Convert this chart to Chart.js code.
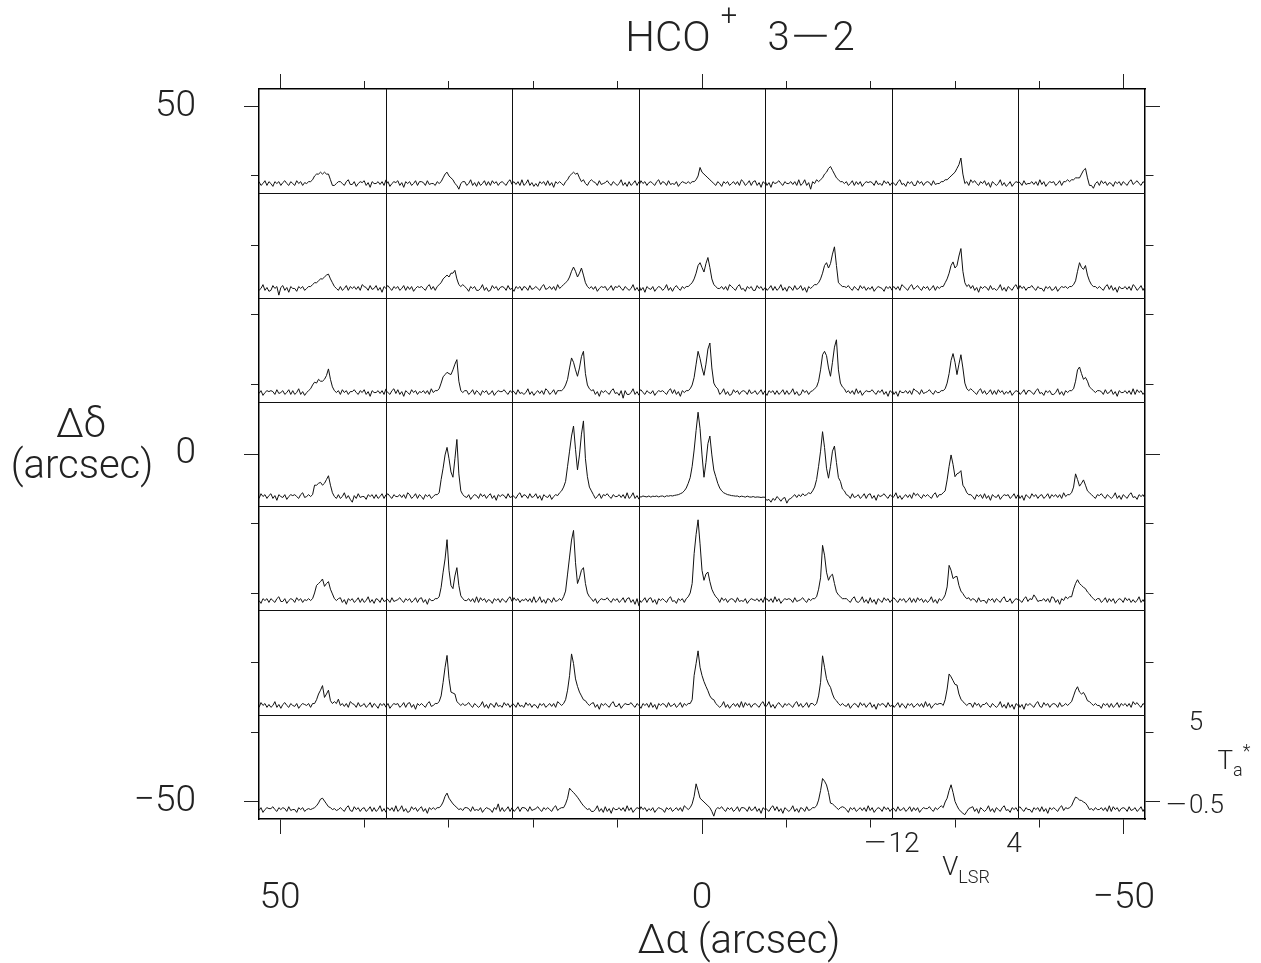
<!DOCTYPE html>
<html>
<head>
<meta charset="utf-8">
<script src="https://cdn.jsdelivr.net/npm/chart.js@4.4.1/dist/chart.umd.min.js"></script>
<style>
  body { margin: 0; background: #fff; }
  #page { position: relative; width: 1261px; height: 963px; overflow: hidden;
          font-family: Roboto, 'Liberation Sans', Arial, sans-serif; font-weight: 300; color: #222; }
  #frame { position: absolute; left: 0; top: 0; }
  .lbl { position: absolute; white-space: nowrap; line-height: 1; transform: translate(-50%, -50%); }
  .rule { position: absolute; background: #111; }
  .up { position: relative; }
  .wide { display: inline-block; }
</style>
</head>
<body>
<div id="page">
  <canvas id="frame" width="1261" height="963"></canvas>
  <div id="cells"></div>

  <div class="lbl" style="left:668px;top:37px;font-size:42px;">HCO</div>
  <div class="lbl" style="left:729px;top:15px;font-size:29px;">+</div>
  <div class="lbl" style="left:811px;top:37px;font-size:40px;">3<span class="wide" style="transform:scaleX(2);margin:0 10px;">&minus;</span>2</div>
  <div class="lbl" style="left:739px;top:940px;font-size:40px;">&Delta;&alpha; (arcsec)</div>
  <div class="lbl" style="left:81px;top:424px;font-size:40px;">&Delta;&delta;</div>
  <div class="lbl" style="left:82px;top:465px;font-size:40px;">(arcsec)</div>

  <div class="lbl" style="left:892px;top:843px;font-size:28px;"><span class="wide" style="transform:scaleX(1.6);margin:0 5px 0 3px;">&minus;</span>12</div>
  <div class="lbl" style="left:1014px;top:843px;font-size:28px;">4</div>
  <div class="lbl" style="left:966px;top:866px;font-size:26px;">V<span class="up" style="font-size:18px;top:8px;">LSR</span></div>
  <div class="lbl" style="left:1196px;top:721px;font-size:26px;">5</div>
  <div class="lbl" style="left:1234px;top:760px;font-size:26px;">T<span class="up" style="font-size:18px;top:7px;">a</span><span class="up" style="font-size:18px;top:-12px;">*</span></div>
  <div class="lbl" style="left:1195px;top:804px;font-size:26px;"><span class="wide" style="transform:scaleX(1.6);margin:0 5px 0 3px;">&minus;</span>0.5</div>
</div>

<script>
// velocity channels (km/s), shared by every spectrum
const VELOCITY = [-12,-11.75,-11.5,-11.25,-11,-10.75,-10.5,-10.25,-10,-9.75,-9.5,-9.25,-9,-8.75,-8.5,-8.25,
  -8,-7.75,-7.5,-7.25,-7,-6.75,-6.5,-6.25,-6,-5.75,-5.5,-5.25,-5,-4.75,-4.5,-4.25,-4,-3.75,-3.5,-3.25,
  -3,-2.75,-2.5,-2.25,-2,-1.75,-1.5,-1.25,-1,-0.75,-0.5,-0.25,0,0.25,0.5,0.75,1,1.25,1.5,1.75,
  2,2.25,2.5,2.75,3,3.25,3.5,3.75,4];

const RA_OFFSETS = [45, 30, 15, 0, -15, -30, -45];   // columns, left to right (arcsec)
const DEC_OFFSETS = [45, 30, 15, 0, -15, -30, -45];  // rows, top to bottom (arcsec)
const CELL_SIZE = 15;
const OFFSET_TICKS = [-50, -40, -30, -20, -10, 0, 10, 20, 30, 40, 50];
const OFFSET_LABELS = [-50, 0, 50];
const OFFSET_RANGE = [-52.5, 52.5];
const VLSR_RANGE = [-12, 4];
const TA_RANGE = [-0.5, 5];

// Ta* (K) per channel, one row of the map per array, columns RA +45 ... -45
const SPECTRA_DEC_P45 = [
  [0.1,-0.1,0,0.15,-0.1,0.1,0,-0.15,0.1,0,0.1,-0.1,0.05,0.15,0,-0.1,0.1,0,-0.1,0.15,0,0.1,-0.1,0.05,
   0,0.1,0.1,0.2,0.4,0.5,0.5,0.6,0.5,0.6,0.5,0.5,0.2,-0.1,-0.1,0,0.1,
   0.1,0,-0.1,0.1,0.2,-0.05,-0.05,0.1,-0.15,0,0.1,0.05,0.15,-0.1,0.05,-0.2,0.1,0,0,0.1,-0.05,0.1,-0.1,0.2],
  [-0.05,0.1,-0.15,0,0.1,0.05,0.15,-0.1,0.05,-0.2,0.1,0,0.1,-0.1,0,0.15,-0.1,0.1,0.1,0.05,-0.1,0.15,-0.05,0,
   0,-0.1,0.1,0,0.1,0.3,0.5,0.6,0.4,0.3,0.2,0,-0.1,-0.3,0,0.1,0.1,
   -0.1,0,0.2,-0.1,0.05,-0.15,0.1,-0.1,0,0.15,-0.1,0.1,-0.1,0.15,0,0.1,-0.1,0.05,0.1,0,-0.1,0.1,0.2,-0.05],
  [0,0.1,-0.05,0.1,-0.1,0.2,-0.1,0,0.2,-0.1,0.05,-0.15,0,-0.15,0.1,0,0.1,-0.1,0.15,-0.1,0.05,-0.2,0.1,0,
   0.1,0,-0.1,0.1,0.2,0.4,0.5,0.6,0.5,0.55,0.3,0.1,0.2,0,-0.1,0.1,0.2,
   0.1,0.05,-0.1,0.15,-0.05,0,0.05,0.15,0,-0.1,0.1,0,-0.1,0,0.2,-0.1,0.05,-0.15,0.1,-0.1,0,0.15,-0.1,0.1],
  [-0.1,0.15,0,0.1,-0.1,0.05,0.1,0,-0.1,0.1,0.2,-0.05,0.1,0.05,-0.1,0.15,-0.05,0,-0.05,0.1,-0.15,0,0.1,0.05,
   0,0.1,0,0.1,0.1,0.2,0.4,0.85,0.6,0.5,0.4,0.3,0.2,0.1,0,-0.1,0.1,
   0,-0.15,0.1,0,0.1,-0.1,0,0.1,-0.05,0.1,-0.1,0.2,0.1,-0.1,0,0.15,-0.1,0.1,0.15,-0.1,0.05,-0.2,0.1,0],
  [0.15,-0.1,0.05,-0.2,0.1,0,0.05,0.15,0,-0.1,0.1,0,0,0.1,-0.05,0.1,-0.1,0.2,-0.1,0,0.2,-0.1,0.05,-0.3,
   0.1,0,0.2,0.1,0.2,0.3,0.5,0.6,0.8,0.9,0.7,0.5,0.3,0.2,0.1,0.1,0,
   0.1,-0.1,0,0.15,-0.1,0.1,-0.05,0.1,-0.15,0,0.1,0.05,0.1,0.05,-0.1,0.15,-0.05,0,-0.1,0.15,0,0.1,-0.1,0.05],
  [0.1,0,-0.1,0.1,0.2,-0.05,0,-0.15,0.1,0,0.1,-0.1,-0.1,0.15,0,0.1,-0.1,0.05,0.1,0.05,-0.1,0.15,-0.05,0,
   0,0.1,0.1,0.2,0.2,0.3,0.4,0.5,0.6,0.8,1.0,1.35,0.5,0,0.1,-0.1,0.2,
   0.05,0.15,0,-0.1,0.1,0,0.15,-0.1,0.05,-0.2,0.1,0,-0.1,0,0.2,-0.1,0.05,-0.15,-0.05,0.1,-0.15,0,0.1,0.05],
  [0.1,0.05,-0.1,0.15,-0.05,0,0,0.1,-0.05,0.1,-0.1,0.2,-0.05,0.1,-0.15,0,0.1,0.05,0.1,-0.1,0,0.15,-0.1,0.1,
   0.1,0.2,0.1,0.2,0.2,0.3,0.3,0.3,0.5,0.7,0.8,0.3,-0.1,-0.1,-0.25,0,0.1,
   -0.1,0.15,0,0.1,-0.1,0.05,0,-0.15,0.1,0,0.1,-0.1,0.1,0,-0.1,0.1,0.2,-0.05,0.05,0.15,0,-0.1,0.1,0]
];

const SPECTRA_DEC_P30 = [
  [-0.1,0,0.2,-0.1,0.05,-0.15,-0.1,0.15,0,0.1,-0.35,0.05,0.15,-0.1,0.05,-0.2,0.1,0,0,-0.15,0.1,0,0.1,-0.1,
   0,0.1,0.1,0.2,0.3,0.3,0.4,0.5,0.5,0.6,0.7,0.75,0.5,0.3,0.1,0,-0.1,
   0.1,-0.1,0,0.15,-0.1,0.1,0,0.1,-0.05,0.1,-0.1,0.2,0.1,0.05,-0.1,0.15,-0.05,0,0.15,-0.1,0.05,-0.2,0.1,0],
  [0.05,0.15,0,-0.1,0.1,0,0.1,-0.1,0,0.15,-0.1,0.1,-0.05,0.1,-0.15,0,0.1,0.05,0.1,0,-0.1,0.1,0.2,-0.05,
   0.1,-0.1,0.1,0.2,0.3,0.5,0.6,0.7,0.6,0.8,0.8,0.95,0.5,0.2,0.1,0.2,0.1,
   0,-0.15,0.1,0,0.1,-0.1,-0.1,0,0.2,-0.1,0.05,-0.15,-0.1,0.15,0,0.1,-0.1,0.05,0.1,0.05,-0.1,0.15,-0.05,0],
  [0,-0.15,0.1,0,0.1,-0.1,0.1,0.05,-0.1,0.15,-0.05,0,0.1,0,-0.1,0.1,0.2,-0.05,0,0.1,-0.05,0.1,-0.1,0.2,
   0,0.1,0.2,0.3,0.4,0.6,0.9,1.12,0.9,0.6,0.8,1.07,0.7,0.3,0.1,0,0.1,
   -0.05,0.1,-0.15,0,0.1,0.05,0.1,-0.1,0,0.15,-0.1,0.1,0.05,0.15,0,-0.1,0.1,0,-0.1,0,0.2,-0.1,0.05,-0.15],
  [0.15,-0.1,0.05,-0.2,0.1,0,-0.05,0.1,-0.15,0,0.1,0.05,-0.1,0,0.2,-0.1,0.05,-0.15,0.05,0.15,0,-0.1,0.1,0,
   0.1,0.1,0.2,0.3,0.5,0.8,1.2,1.35,1.1,0.86,1.3,1.62,1.1,0.5,0.2,0.1,0,
   0,0.1,-0.05,0.1,-0.1,0.2,0.1,0,-0.1,0.1,0.2,-0.05,0,-0.15,0.1,0,0.1,-0.1,-0.1,0.15,0,0.1,-0.1,0.05],
  [0.1,-0.1,0,0.15,-0.1,0.1,-0.1,0,0.2,-0.1,0.05,-0.15,0.1,0.05,-0.1,0.15,-0.05,0,0.15,-0.1,0.05,-0.2,0.1,0,
   0.1,0.2,0.2,0.3,0.5,0.8,1.2,1.35,1.07,1.3,1.8,2.18,1.2,0.3,0.2,0.1,0.1,
   0.05,0.15,0,-0.1,0.1,0,-0.1,0.15,0,0.1,-0.1,0.05,-0.05,0.1,-0.15,0,0.1,0.05,0,-0.15,0.1,0,0.1,-0.1],
  [0,0.1,-0.05,0.1,-0.1,0.2,0.1,0,-0.1,0.1,0.2,-0.05,0.05,0.15,0,-0.1,0.1,0,0.1,-0.1,0,0.15,-0.1,0.1,
   0,0.1,0.1,0.3,0.5,0.8,1.2,1.39,1.07,1.2,1.7,2.09,0.9,0.3,0.1,0.2,0,
   0.15,-0.1,0.05,-0.2,0.1,0,0.1,0.05,-0.1,0.15,-0.05,0,-0.1,0,0.2,-0.1,0.05,-0.15,0.1,0,-0.1,0.1,0.2,-0.05],
  [-0.1,0.15,0,0.1,-0.1,0.05,0.05,0.15,0,-0.1,0.1,0,0,-0.15,0.1,0,0.1,-0.1,-0.05,0.1,-0.15,0,0.1,0.05,
   0.1,0,0.1,0.1,0.2,0.4,0.9,1.35,1.1,1.0,1.2,0.7,0.4,0.2,0.1,0.1,0,
   0.1,0,-0.1,0.1,0.2,-0.05,0.15,-0.1,0.05,-0.2,0.1,0,0,0.1,-0.05,0.1,-0.1,0.2,0.1,-0.1,0,0.15,-0.1,0.1]
];

const SPECTRA_DEC_P15 = [
  [-0.05,0.1,-0.15,0,0.1,0.05,0.1,0.05,-0.1,0.15,-0.05,0,0.1,-0.1,0,0.15,-0.1,0.1,-0.1,0,0.2,-0.1,0.05,-0.15,
   0,0.1,0.2,0.4,0.55,0.5,0.7,0.6,0.6,0.7,0.9,1.25,0.7,0.3,0.1,0,0.1,
   -0.1,0.15,0,0.1,-0.1,0.05,0.05,0.15,0,-0.1,0.1,0,0.15,-0.1,0.05,-0.2,0.1,0,0,0.1,-0.05,0.1,-0.1,0.2],
  [0.1,0,-0.1,0.1,0.2,-0.05,0.15,-0.1,0.05,-0.2,0.1,0,-0.1,0.15,0,0.1,-0.1,0.05,0,0.1,-0.05,0.1,-0.1,0.2,
   0,0.1,0.1,0.2,0.5,0.83,0.95,1.07,1.0,0.95,1.2,1.5,1.74,0.6,0.1,0,0.1,
   0.1,-0.1,0,0.15,-0.1,0.1,0,-0.15,0.1,0,0.1,-0.1,-0.05,0.1,-0.15,0,0.1,0.05,0.05,0.15,0,-0.1,0.1,0],
  [0.1,0.05,-0.1,0.15,-0.05,0,-0.1,0,0.2,-0.1,0.05,-0.15,0,0.1,-0.05,0.1,-0.1,0.2,0.1,-0.1,0,0.15,-0.1,0.1,
   0.1,0.1,0.2,0.4,0.7,1.3,1.83,1.6,1.2,0.86,1.3,1.9,2.18,1.0,0.4,0.2,0.1,
   0.15,-0.1,0.05,-0.2,0.1,0,0.1,0,-0.1,0.1,0.2,-0.05,0,-0.15,0.1,-0.3,0.1,-0.1,-0.1,0,0.2,-0.1,0.05,-0.15],
  [0.05,0.15,0,-0.1,0.1,0,-0.05,0.1,-0.15,0,0.1,0.05,0.1,0,-0.1,0.1,0.2,-0.05,0.15,-0.1,0.05,-0.2,0.1,0,
   0.1,0.1,0.2,0.4,0.8,1.5,2.18,1.8,1.3,0.91,1.5,2.3,2.62,1.3,0.5,0.3,0.2,
   -0.1,0,0.2,-0.1,0.05,-0.15,-0.1,0.15,0,0.1,-0.1,0.05,0.1,0.05,-0.1,0.15,-0.05,0,0.1,-0.1,0,0.15,-0.1,0.1],
  [0,-0.15,0.1,0,0.1,-0.1,0.1,-0.1,0,0.15,-0.1,0.1,-0.1,0,0.2,-0.1,0.05,-0.15,-0.1,0.15,0,0.1,-0.1,0.05,
   0.1,0.2,0.3,0.6,1.2,2.0,2.18,1.95,1.3,0.86,1.6,2.4,2.79,1.2,0.5,0.3,0.2,
   0,0.1,-0.05,0.1,-0.1,0.2,-0.05,0.1,-0.15,0,0.1,0.05,0.05,0.15,0,-0.1,0.1,0,0.15,-0.1,0.05,-0.2,0.1,0],
  [0.15,-0.1,0.05,-0.2,0.1,0,0,0.1,-0.05,0.1,-0.1,0.2,0.1,0.05,-0.1,0.15,-0.05,0,0.05,0.15,0,-0.1,0.1,0,
   0,0.1,0.1,0.2,0.5,1.0,1.7,2.06,1.6,0.95,1.5,2.0,1.3,0.5,0.2,0.1,0.2,
   0.1,0,-0.1,0.1,0.2,-0.05,0.1,-0.1,0,0.15,-0.1,0.1,-0.1,0.15,0,0.1,-0.1,0.05,-0.05,0.1,-0.15,0,0.1,0.05],
  [0.1,-0.1,0,0.15,-0.1,0.1,0.1,0,-0.1,0.1,0.2,-0.05,0,-0.15,0.1,0,0.1,-0.1,-0.1,0,0.2,-0.1,0.05,-0.15,
   0.1,0,0.1,0.1,0.2,0.6,1.2,1.35,1.0,0.7,0.8,0.6,0.3,0.2,0.1,0,0.1,
   0.1,0.05,-0.1,0.15,-0.05,0,0.15,-0.1,0.05,-0.2,0.1,0,0,0.1,-0.05,0.1,-0.1,0.2,-0.1,0.15,0,0.1,-0.1,0.05]
];

const SPECTRA_DEC_0 = [
  [-0.1,0.15,0,0.1,-0.1,0.05,0.15,-0.1,0.05,-0.2,0.1,0,-0.05,0.1,-0.15,0,0.1,0.05,0.1,0,-0.1,0.1,0.2,-0.05,
   0,0.1,0,0.1,0.6,0.6,0.7,0.75,0.6,0.7,0.9,1.1,0.6,0.2,0,-0.1,0.1,
   -0.1,0,0.2,-0.1,0.05,-0.15,-0.3,0.05,-0.1,0.15,-0.05,0,0,-0.15,0.1,0,0.1,-0.1,0.1,-0.1,0,0.15,-0.1,0.1],
  [0.05,0.15,0,-0.1,0.1,0,0,0.1,-0.05,0.1,-0.1,0.2,0.1,-0.1,0,0.15,-0.1,0.1,0,-0.15,0.1,0,0.1,-0.1,
   0,0.1,0.1,0.2,0.9,1.5,2.2,2.6,2.0,1.3,1.02,2.0,3.02,1.2,0.3,0.1,0,
   -0.05,0.1,-0.15,0,0.1,0.05,-0.1,0.15,0,0.1,-0.1,0.05,0.15,-0.1,0.05,-0.2,0.1,0,0.1,0.05,-0.1,0.15,-0.05,0],
  [0.1,0,-0.1,0.1,0.2,-0.05,0.1,0.05,-0.1,0.15,-0.05,0,0.15,-0.1,0.05,-0.2,0.1,0,-0.05,0.1,-0.15,0,0.1,0.05,
   0.2,0.3,0.5,0.8,1.6,2.4,3.2,3.73,2.5,1.41,2.2,3.3,4.0,2.0,1.05,0.5,0.3,
   0.1,-0.1,0,0.15,-0.1,0.1,0.05,0.15,0,-0.1,0.1,0,0,0.1,-0.05,0.1,-0.1,0.2,-0.1,0,0.2,-0.1,0.05,-0.15],
  [0.02,-0.03,0.03,0,-0.02,0.03,-0.03,0.02,0,0.03,-0.02,0.02,0.03,-0.02,0.04,0.02,0.05,0.03,0.06,0.08,0.1,0.15,0.2,0.3,
   0.45,0.7,1.0,1.6,2.46,3.5,4.46,3.6,2.2,1.02,1.8,2.8,3.2,2.2,1.4,1.05,0.7,
   0.45,0.3,0.2,0.15,0.1,0.08,0.05,0.04,0.02,0.03,-0.02,0.02,0,-0.03,0.02,-0.02,-0.03,0,-0.04,-0.02,-0.03,-0.05,-0.03,-0.04],
  [-0.1,-0.2,-0.15,-0.3,-0.1,-0.2,0,-0.1,-0.25,-0.1,-0.05,-0.35,-0.15,-0.1,0,0.1,-0.05,0.1,0,0.15,0.05,0.1,0.2,0.15,
   0.3,0.5,0.9,1.6,2.4,3.43,2.6,1.5,0.97,1.6,2.4,2.67,1.8,1.0,0.8,0.4,0.3,
   0.1,0.05,-0.1,0.15,-0.05,0,0.1,-0.1,0,0.15,-0.1,0.1,0.15,-0.1,0.05,-0.2,0.1,0,0.05,0.15,0,-0.1,0.1,0],
  [-0.1,0,0.2,-0.1,0.05,-0.15,0,0.1,-0.05,0.1,-0.1,0.2,0.05,0.15,0,-0.1,0.1,0,0.1,0,-0.1,0.1,0.2,-0.05,
   0.1,0.1,0.2,0.3,0.88,1.6,2.2,1.7,1.05,1.2,1.25,1.37,0.6,0.44,0.2,0.1,0.1,
   0,-0.15,0.1,0,0.1,-0.1,0.15,-0.1,0.05,-0.2,0.1,0,-0.05,0.1,-0.15,0,0.1,0.05,0.1,-0.1,0,0.15,-0.1,0.1],
  [0.15,-0.1,0.05,-0.2,0.1,0,-0.1,0.15,0,0.1,-0.1,0.05,0.1,-0.1,0,0.15,-0.1,0.1,0,0.1,-0.05,0.1,-0.1,0.2,
   0,0.1,0.1,0.2,0.5,1.2,0.9,0.55,0.7,0.88,0.6,0.3,0.2,0.1,0,-0.1,0.1,
   0.05,0.15,0,-0.1,0.1,0,-0.1,0,0.2,-0.1,0.05,-0.15,0.1,0,-0.1,0.1,0.2,-0.05,0,-0.15,0.1,0,0.1,-0.1]
];

const SPECTRA_DEC_M15 = [
  [0,-0.15,0.1,0,0.1,-0.1,0.1,0,-0.1,0.1,0.2,-0.05,-0.05,0.1,-0.15,0,0.1,0.05,-0.1,0.15,0,0.1,-0.1,0.05,
   0,0.1,0,0.1,0.4,0.8,0.9,1.0,1.14,0.75,0.9,1.0,0.6,0.35,0.1,0,0.1,
   0.15,-0.1,0.05,-0.2,0.1,0,0.1,-0.1,0,0.15,-0.1,0.1,-0.1,0,0.2,-0.1,0.05,-0.15,0.1,0.05,-0.1,0.15,-0.05,0],
  [0.1,0.05,-0.1,0.15,-0.05,0,0.05,0.15,0,-0.1,0.1,0,0.1,-0.1,0,0.15,-0.1,0.1,0.15,-0.1,0.05,-0.2,0.1,0,
   0,0.1,0.1,0.2,0.7,1.5,2.2,3.22,1.6,0.8,0.63,1.3,1.74,0.8,0.25,0.1,0,
   0,0.1,-0.05,0.1,-0.1,0.2,-0.1,0.15,0,0.1,-0.1,0.05,0,-0.15,0.1,0,0.1,-0.1,0.1,0,-0.1,0.1,0.2,-0.05],
  [-0.1,0.15,0,0.1,-0.1,0.05,0,0.1,-0.05,0.1,-0.1,0.2,-0.1,0,0.2,-0.1,0.05,-0.15,0.1,0.05,-0.1,0.15,-0.05,0,
   0.1,0,0.2,0.5,1.4,2.3,3.2,3.71,2.0,0.9,1.2,1.6,1.74,0.9,0.4,0.2,0.1,
   -0.05,0.1,-0.15,0,0.1,0.05,0.05,0.15,0,-0.1,0.1,0,0.1,-0.1,0,0.15,-0.1,0.1,0.15,-0.1,0.05,-0.2,0.1,-0.3],
  [0.1,-0.1,0,0.15,-0.1,0.1,0.15,-0.1,0.05,-0.2,0.1,0,0.1,0,-0.1,0.1,0.2,-0.05,0,-0.15,0.1,0,0.1,-0.1,
   0.1,0.2,0.4,0.9,2.48,3.5,4.27,3.0,1.6,1.07,1.4,1.51,1.0,0.6,0.37,0.2,0.1,
   -0.1,0.15,0,0.1,-0.1,0.05,0.1,0.05,-0.1,0.15,-0.05,0,-0.05,0.1,-0.15,0,0.1,0.05,0,0.1,-0.05,0.1,-0.1,0.2],
  [0,0.1,-0.05,0.1,-0.1,0.2,-0.05,0.1,-0.15,0,0.1,0.05,0.1,0.05,-0.1,0.15,-0.05,0,0.05,0.15,0,-0.1,0.1,0,
   0.1,0.1,0.2,0.6,1.2,2.92,2.4,1.5,1.07,1.3,1.39,0.9,0.46,0.3,0.2,0.1,0.1,
   0.1,0,-0.1,0.1,0.2,-0.05,-0.1,0,0.2,-0.1,0.05,-0.15,0.15,-0.1,0.05,-0.2,0.1,0,-0.1,0.15,0,0.1,-0.1,0.05],
  [0.05,0.15,0,-0.1,0.1,0,0.1,-0.1,0,0.15,-0.1,0.1,-0.1,0.15,0,0.1,-0.1,0.05,-0.1,0,0.2,-0.1,0.05,-0.15,
   0.1,0,0.1,0.3,0.72,1.86,1.6,1.16,1.25,1.28,0.8,0.5,0.37,0.2,0.1,0.15,0,
   0.1,0.05,-0.1,0.15,-0.05,0,0,-0.15,0.1,0,0.1,-0.1,0.1,0,-0.1,0.1,0.2,-0.05,-0.05,0.1,-0.15,0,0.1,0.05],
  [0.1,0,-0.1,0.1,0.2,-0.05,0.1,0.05,0.3,0.15,-0.05,0,0,0.1,-0.05,0.1,-0.1,0.2,0.15,-0.1,0.05,-0.2,0.1,0,
   0.2,0.1,0.2,0.2,0.6,0.9,1.1,0.9,0.8,0.7,0.63,0.45,0.35,0.2,0.1,0,0.1,
   0.1,-0.1,0,0.15,-0.1,0.1,-0.05,0.1,-0.15,0,0.1,0.05,-0.1,0.15,0,0.1,-0.1,0.05,-0.1,0,0.2,-0.1,0.05,-0.15]
];

const SPECTRA_DEC_M30 = [
  [-0.1,0.15,0,0.1,-0.1,0.05,-0.1,0,0.2,-0.1,0.05,-0.15,0.05,0.15,0,-0.1,0.1,0,-0.05,0.1,-0.15,0,0.1,0.05,
   0,0.1,-0.1,0.1,0.1,0.3,0.6,0.8,1.04,0.42,0.6,0.8,0.25,0.1,0.2,0.1,0.33,
   0,0.1,-0.05,0.1,-0.1,0.2,0.1,0.05,-0.1,0.15,-0.05,0,0.1,-0.1,0,0.15,-0.1,0.1,0,-0.15,0.1,0,0.1,-0.1],
  [-0.05,0.1,-0.15,0,0.1,0.05,0.1,-0.1,0,0.15,-0.1,0.1,0.15,-0.1,0.05,-0.2,0.1,0,0.1,0,-0.1,0.1,0.2,-0.05,
   0,0.1,0.1,0.2,0.5,1.21,2.0,2.62,1.4,0.7,0.65,0.6,0.2,0.1,0,0.1,0,
   0.05,0.15,0,-0.1,0.1,0,-0.1,0,0.2,-0.1,0.05,-0.15,0.1,0.05,-0.1,0.15,-0.05,0,-0.1,0.15,0,0.1,-0.1,0.05],
  [0.1,0.05,-0.1,0.15,-0.05,0,-0.1,0.15,0,0.1,-0.1,0.05,0,-0.15,0.1,0,0.1,-0.1,0,0.1,-0.05,0.1,-0.1,0.2,
   0.1,0,0.1,0.3,0.8,1.56,2.7,2.2,1.39,1.0,0.7,0.5,0.3,0.25,0.1,0,0.1,
   0.15,-0.1,0.05,-0.2,0.1,0,0.1,0,-0.1,0.1,0.2,-0.05,-0.05,0.1,-0.15,0,0.1,0.05,0.05,0.15,0,-0.1,0.1,0],
  [0,-0.15,0.1,0,0.1,-0.1,0.15,-0.1,0.05,-0.2,0.1,0,0.1,0.05,-0.1,0.15,-0.05,0,0.1,-0.1,0,0.15,-0.1,0.1,
   0,0.1,0.1,0.3,1.57,2.2,2.86,2.0,1.57,1.25,1.0,0.77,0.5,0.35,0.3,0.1,0,
   -0.1,0,0.2,-0.1,0.05,-0.15,0,0.1,-0.05,0.1,-0.1,0.2,-0.1,0.15,0,0.1,-0.1,0.05,0.1,0,-0.1,0.1,0.2,-0.05],
  [-0.1,0,0.2,-0.1,0.05,-0.15,0.05,0.15,0,-0.1,0.1,0,0.1,0,-0.1,0.1,0.2,-0.05,0.1,-0.1,0,0.15,-0.1,0.1,
   0.1,0,0.1,0.5,1.21,2.6,2.0,1.4,1.12,0.95,0.6,0.35,0.25,0.1,0,0.1,0,
   -0.05,0.1,-0.15,0,0.1,0.05,-0.1,0.15,0,0.1,-0.1,0.05,0.15,-0.1,0.05,-0.2,0.1,0,0.1,0.05,-0.1,0.15,-0.05,0],
  [0.1,-0.1,0,0.15,-0.1,0.1,0,-0.15,0.1,0,0.1,-0.1,0,0.1,-0.05,0.1,-0.1,0.2,-0.05,0.1,-0.15,0,0.1,0.05,
   0.1,0.1,0,0.3,0.86,1.65,1.5,1.3,1.1,1.07,0.6,0.33,0.2,0.1,0,0.1,0.1,
   -0.1,0.15,0,0.1,-0.1,0.05,0.05,0.15,0,-0.1,0.1,0,-0.1,0,0.2,-0.1,0.05,-0.15,0.15,-0.1,0.05,-0.2,0.1,0],
  [0.15,-0.1,0.05,-0.2,0.1,0,0.1,0,-0.1,0.1,0.2,-0.05,-0.1,0.15,0,0.1,-0.1,0.05,0.1,0.05,-0.1,0.15,-0.05,0,
   0.1,0,0.1,0.2,0.5,0.8,0.98,0.7,0.6,0.68,0.5,0.25,0.2,0.1,0,0.1,0,
   0,-0.15,0.1,0,0.1,-0.1,0.1,-0.1,0,0.15,-0.1,0.1,0,0.1,-0.05,0.1,-0.1,0.2,0.05,0.15,0,-0.1,0.1,0]
];

const SPECTRA_DEC_M45 = [
  [-0.05,0.1,-0.15,0,0.1,0.05,0.05,0.15,0,-0.1,0.1,0,0.1,0.05,-0.1,0.15,-0.05,0,0,-0.15,0.1,0,0.1,-0.1,
   0,0.05,0,0.05,0.1,0.2,0.35,0.55,0.6,0.45,0.3,0.15,0.1,0,0.05,-0.05,0,
   0.1,0,-0.1,0.1,0.2,-0.05,-0.1,0.15,0,0.1,-0.1,0.05,0.1,-0.1,0,0.15,-0.1,0.1,-0.1,0,0.2,-0.1,0.05,-0.15],
  [0,0.1,-0.05,0.1,-0.1,0.2,-0.1,0,0.2,-0.1,0.05,-0.15,-0.1,0.15,0,0.1,-0.1,0.05,0.15,-0.1,0.05,-0.2,0.1,0,
   0.1,0,0.1,0.1,0.2,0.4,0.7,0.87,0.6,0.45,0.3,0.2,0.1,0,0.05,-0.05,0.1,
   0.1,0.05,-0.1,0.15,-0.05,0,-0.05,0.1,-0.15,0,0.1,0.05,0,-0.15,0.1,0,0.3,-0.1,0.1,-0.1,0,0.15,-0.1,0.1],
  [0.1,-0.1,0,0.15,-0.1,0.1,0.1,0.05,-0.1,0.15,-0.05,0,0.05,0.15,0,-0.1,0.1,0,0.1,0,-0.1,0.1,0.2,-0.05,
   0.05,0.1,0.1,0.3,0.6,1.13,1.0,0.9,0.78,0.65,0.5,0.34,0.2,0.1,0,0.05,-0.1,
   -0.1,0,0.2,-0.1,0.05,-0.15,0.15,-0.1,0.05,-0.2,0.1,0,0,0.1,-0.05,0.1,-0.1,0.2,-0.05,0.1,-0.15,0,0.1,0.05],
  [-0.1,0.15,0,0.1,-0.1,0.05,-0.05,0.1,-0.15,0,0.1,0.05,0,-0.15,0.1,0,0.1,-0.1,0,0.1,-0.05,0.1,-0.1,0.2,
   0.1,0,0.1,0.3,0.7,1.36,1.0,0.6,0.5,0.4,0.3,0.2,0.1,-0.1,-0.35,0,0.1,
   0.05,0.15,0,-0.1,0.1,0,0.1,-0.1,0,0.15,-0.1,0.1,0.1,0.05,-0.1,0.15,-0.05,0,0.15,-0.1,0.05,-0.2,0.1,0],
  [0.1,0,-0.1,0.1,0.2,-0.05,0.15,-0.1,0.05,-0.2,0.1,0,-0.1,0,0.2,-0.1,0.05,-0.15,0.1,0.05,-0.1,0.15,-0.05,0,
   0.1,0.1,0.2,0.5,1.0,1.64,1.5,1.3,0.9,0.34,0.3,0.2,0.1,0,0.1,0.15,0.1,
   0,-0.15,0.1,0,0.1,-0.1,0,0.1,-0.05,0.1,-0.1,0.2,-0.05,0.1,-0.15,0,0.1,0.05,-0.1,0.15,0,0.1,-0.1,0.05],
  [0.1,0.05,-0.1,0.15,-0.05,0,0.1,-0.1,0,0.15,-0.1,0.1,-0.05,0.1,-0.15,0,0.1,0.05,0.05,0.15,0,-0.1,0.1,0,
   0.1,0.2,0.1,0.4,0.6,1.0,1.31,0.9,0.43,0.2,0,-0.1,-0.2,-0.27,-0.1,0.05,0.1,
   0.15,-0.1,0.05,-0.2,0.1,0,-0.1,0,0.2,-0.1,0.05,-0.15,0.1,0,-0.1,0.1,0.2,-0.05,0,-0.15,0.1,0,0.1,-0.1],
  [0.05,0.15,0,-0.1,0.1,0,0,-0.15,0.1,0,0.1,-0.1,0.15,-0.1,0.05,-0.2,0.1,0,0.1,0,-0.1,0.1,0.2,-0.05,
   0.1,0.05,0.1,0.2,0.45,0.66,0.6,0.5,0.48,0.4,0.34,0.2,0,0.05,-0.05,0.1,0,
   0,0.1,-0.05,0.1,-0.1,0.2,-0.1,0.15,0,0.1,-0.1,0.05,0.1,0.05,-0.1,0.15,-0.05,0,0.1,-0.1,0,0.15,-0.1,0.1]
];

const SPECTRA_ROWS = [SPECTRA_DEC_P45, SPECTRA_DEC_P30, SPECTRA_DEC_P15, SPECTRA_DEC_0,
                      SPECTRA_DEC_M15, SPECTRA_DEC_M30, SPECTRA_DEC_M45];

Chart.defaults.font.family = "Roboto, 'Liberation Sans', Arial, sans-serif";
Chart.defaults.font.weight = 300;
Chart.defaults.color = '#222';

const fmtOffset = v => (v < 0 ? '\u2212' + Math.abs(v) : String(v));

// outer offset axes: long ticks at the labelled values, short ones every 10"
function offsetAxis(position, size, showLabels) {
  const horizontal = position === 'top' || position === 'bottom';
  // ticks of left/top axes are stroked from the outside in, the others from the border out
  const shortTick = (position === 'left' || position === 'top') ? [0, 7, 8, 40] : [8, 40];
  return {
    type: 'linear',
    axis: horizontal ? 'x' : 'y',
    position: position,
    min: OFFSET_RANGE[0],
    max: OFFSET_RANGE[1],
    reverse: horizontal,
    afterFit: s => { if (horizontal) s.height = size; else s.width = size; },
    afterBuildTicks: s => { s.ticks = OFFSET_TICKS.map(v => ({ value: v })); },
    grid: {
      drawOnChartArea: false,
      drawTicks: true,
      tickLength: 15,
      tickColor: '#222',
      tickWidth: 1,
      tickBorderDash: ctx => (OFFSET_LABELS.includes(ctx.tick && ctx.tick.value) ? [] : shortTick)
    },
    border: { display: true, color: '#000', width: 1.5 },
    ticks: {
      display: showLabels,
      autoSkip: false,
      maxRotation: 0,
      padding: horizontal ? 43 : 48,
      color: '#222',
      font: { size: 37, weight: 300 },
      callback: v => (OFFSET_LABELS.includes(v) ? fmtOffset(v) : '')
    }
  };
}

const frame = new Chart(document.getElementById('frame'), {
  type: 'scatter',
  data: { datasets: [] },
  options: {
    responsive: false,
    animation: false,
    events: [],
    layout: { padding: 0 },
    plugins: { legend: { display: false }, tooltip: { enabled: false } },
    scales: {
      x: offsetAxis('bottom', 144, true),
      xTop: offsetAxis('top', 89, false),
      y: offsetAxis('left', 259, true),
      yRight: offsetAxis('right', 116, false)
    }
  }
});

const xs = frame.scales.x;
const ys = frame.scales.y;
const host = document.getElementById('cells');

function cellBox(ra, dec) {
  const x0 = Math.round(xs.getPixelForValue(ra + CELL_SIZE / 2));
  const x1 = Math.round(xs.getPixelForValue(ra - CELL_SIZE / 2));
  const y0 = Math.round(ys.getPixelForValue(dec + CELL_SIZE / 2));
  const y1 = Math.round(ys.getPixelForValue(dec - CELL_SIZE / 2));
  return { x: x0, y: y0, w: x1 - x0, h: y1 - y0 };
}

function drawSpectrum(box, values) {
  const cv = document.createElement('canvas');
  cv.width = box.w;
  cv.height = box.h;
  cv.style.cssText = `position:absolute;left:${box.x}px;top:${box.y}px;width:${box.w}px;height:${box.h}px;`;
  host.appendChild(cv);
  return new Chart(cv, {
    type: 'line',
    data: {
      datasets: [{
        data: VELOCITY.map((v, i) => ({ x: v, y: values[i] })),
        borderColor: '#111',
        borderWidth: 1,
        pointRadius: 0,
        tension: 0,
        fill: false
      }]
    },
    options: {
      responsive: false,
      animation: false,
      events: [],
      devicePixelRatio: 1,
      layout: { padding: 0 },
      plugins: { legend: { display: false }, tooltip: { enabled: false } },
      scales: {
        x: { type: 'linear', min: VLSR_RANGE[0], max: VLSR_RANGE[1], display: false },
        y: { type: 'linear', min: TA_RANGE[0], max: TA_RANGE[1], display: false }
      }
    }
  });
}

DEC_OFFSETS.forEach((dec, r) => {
  RA_OFFSETS.forEach((ra, c) => {
    drawSpectrum(cellBox(ra, dec), SPECTRA_ROWS[r][c]);
  });
});

// cell dividers between the map positions
const area = frame.chartArea;
RA_OFFSETS.slice(1).forEach(ra => {
  const d = document.createElement('div');
  d.className = 'rule';
  const x = Math.round(xs.getPixelForValue(ra + CELL_SIZE / 2));
  d.style.cssText = `left:${x}px;top:${area.top}px;width:1px;height:${area.bottom - area.top}px;`;
  host.appendChild(d);
});
DEC_OFFSETS.slice(1).forEach(dec => {
  const d = document.createElement('div');
  d.className = 'rule';
  const y = Math.round(ys.getPixelForValue(dec + CELL_SIZE / 2));
  d.style.cssText = `left:${area.left}px;top:${y}px;width:${area.right - area.left}px;height:1px;`;
  host.appendChild(d);
});
</script>
</body>
</html>
